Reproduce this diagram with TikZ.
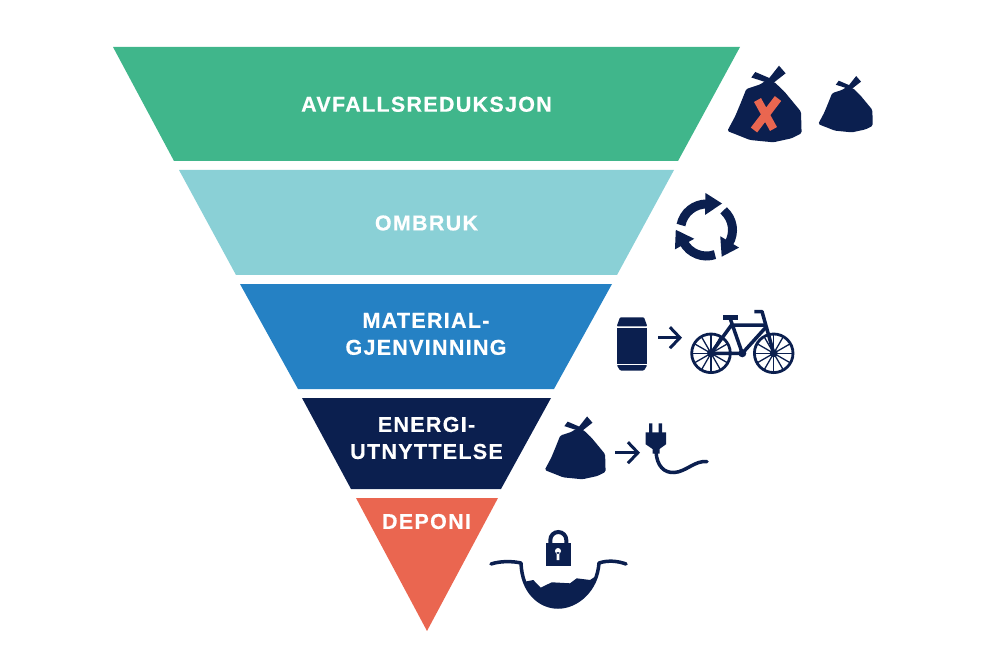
\documentclass[tikz,border=0pt]{standalone}
\usepackage{fontspec}
\setmainfont{Liberation Sans}
\newfontfamily\labelfont[LetterSpace=6.0,BoldFeatures={FakeBold=0.4}]{Liberation Sans}
\usetikzlibrary{arrows.meta}
\definecolor{wastegreen}{HTML}{40B68B}
\definecolor{wasteteal}{HTML}{8AD0D6}
\definecolor{wasteblue}{HTML}{2581C4}
\definecolor{wastenavy}{HTML}{0B1F4F}
\definecolor{wastered}{HTML}{EA6650}
\tikzstyle{level}=[font=\labelfont\bfseries\fontsize{21.5}{27}\selectfont,text=white,align=center,inner sep=0pt]
\tikzstyle{icon}=[fill=wastenavy,draw=none]
\tikzstyle{iconline}=[draw=wastenavy,line width=3.5pt]
\tikzstyle{thinline}=[draw=wastenavy,line width=1.3pt]
\tikzstyle{edge}=[draw=wastenavy,line width=3pt,-{Straight Barb[length=10pt,width=21pt,line width=3pt]}]
% bag with its knot at the origin
\newcommand{\wastebag}[3]{
    \begin{scope}[shift={(#1,#2)},scale=#3]
        \fill[icon,rounded corners=1.5pt] (-3,0) -- (6,1) -- (16,10.5) -- (32.7,30.7) -- (33.3,52.3) -- (23.3,57.3) -- (5,61.3)
            -- (-18.3,59) -- (-41,50) -- (-33,35) -- (-28,23) -- (-22,8) -- (-8.3,3.5) -- cycle;
        \fill[icon] (0,2) -- (-17,-3.5) -- (-13,-9) -- (1,-3) -- (10.7,-15.3) -- (17.3,-7.7) -- (5,2) -- cycle;
    \end{scope}}
\begin{document}
\begin{tikzpicture}[x=1pt,y=-1pt]
    \useasboundingbox (0,0) rectangle (990,660);
    % First we draw the bands
    \foreach \a/\b/\c/\d/\col in {{(113,47)/(740,47)/(678,161)/(174,161)/wastegreen},
                                  {(179,170)/(674,170)/(617,275)/(236,275)/wasteteal},
                                  {(240,284)/(612,284)/(554,389)/(298,389)/wasteblue},
                                  {(302,398)/(551,398)/(501,489)/(351,489)/wastenavy}}
        \fill[\col] \a -- \b -- \c -- \d -- cycle;
    \fill[wastered] (356,498) -- (498,498) -- (427,631) -- cycle;
    % Labels of the bands
    \foreach \pos/\name/\txt in {{(426.5,104.3)/reduction/AVFALLSREDUKSJON}, {(426.5,223)/reuse/OMBRUK},
                                 {(426,334)/recycling/{MATERIAL-\\GJENVINNING}},
                                 {(426.5,438)/energy/{ENERGI-\\UTNYTTELSE}}, {(426.5,521.5)/landfill/DEPONI}}
        \node[level] (\name) at \pos {\txt};
    % Bags at the top
    \wastebag{768.3}{81}{1}
    \wastebag{848.3}{87.3}{0.735}
    \draw[wastered,line width=8pt] (757.5,100) -- (773.5,129) (778,98.5) -- (754,130);
    % Recycling arrows
    \foreach \ang in {0,120,240} {
        \begin{scope}[shift={(706.5,230)},rotate=\ang]
            \draw[draw=wastenavy,line width=9pt] (191:26) arc[start angle=191,end angle=272,radius=26];
            \fill[icon] (-1,-37) -- (15.5,-26.5) -- (-1.5,-15) -- cycle;
        \end{scope}
    }
    % Can
    \fill[icon,rounded corners=1pt] (620,317.3) -- (644,317.3) -- (647.3,326.3) -- (616.7,326.3) -- cycle;
    \fill[icon] (616.7,328) rectangle (647.3,363.5);
    \fill[icon,rounded corners=1pt] (616.7,365) -- (647.3,365) -- (644,370.5) -- (620,370.5) -- cycle;
    \coordinate (can) at (658,337.7);
    \coordinate (bike) at (682,337.7);
    \path[edge] (can) -- (bike);
    % Bike
    \foreach \wx in {711,773.7}{
        \draw[draw=wastenavy,line width=2.8pt] (\wx,353.3) circle (19.3);
        \foreach \ang in {0,30,...,330}
            \draw[thinline] (\wx,353.3) -- ++(\ang:19);
    }
    \fill[icon] (711,353.3) circle (4) (773.7,353.3) circle (4) (742.3,353.3) circle (4);
    \draw[iconline,line join=round] (711,353.3) -- (742.3,353.3) -- (730,318) (711,353.3) -- (731.5,325)
        -- (766,325) (742.3,353.3) -- (767,326);
    \draw[iconline,line join=round] (773.7,353.3) -- (762,311.5) -- (754.3,311.5);
    \fill[icon] (722.7,315) rectangle (738.3,319.5);
    % Bag, plug and cable
    \wastebag{578.3}{429}{0.82}
    \coordinate (bag) at (615,452.7);
    \coordinate (plug) at (640,452.7);
    \path[edge] (bag) -- (plug);
    \fill[icon] (649,423.3) rectangle (652.4,433) (658.6,423.3) rectangle (662,433);
    \fill[icon] (645.7,432.3) -- (666,432.3) -- (666,444.3) -- (659.5,449) -- (659.5,453.5) -- (652.5,453.5) -- (652.5,449) -- (645.7,444.3) -- cycle;
    \draw[iconline,line cap=round] (656,452) .. controls (657,466) and (664,473) .. (674,472.5)
        .. controls (686,472) and (695,460) .. (707,461.7);
    % Lock
    \fill[icon] (546,543.3) rectangle (570.7,565.7);
    \draw[draw=wastenavy,line width=4pt] (550.3,544) -- (550.3,540) arc[start angle=180,end angle=360,radius=8] -- (566.3,544);
    \fill[white] (558,551) circle (3) (556.6,552) rectangle (559.4,560);
    % Pit
    \fill[icon] (525,581.7) -- (533.3,580) -- (540.7,587.7) -- (551.7,582.3) -- (570,583.3) -- (576.7,578.3) -- (590,580) -- (595,576.7)
        .. controls (590,595) and (575,608) .. (558,608) .. controls (542,608) and (530,597) .. (525,581.7) -- cycle;
    \draw[iconline,line cap=round,line join=round] (491,564) .. controls (500,561) and (512,561) .. (521,563)
        .. controls (522,592) and (540,607) .. (558,607) .. controls (577,607) and (597,590) .. (599,563)
        .. controls (608,560) and (618,561) .. (626,564);
\end{tikzpicture}
\end{document}
